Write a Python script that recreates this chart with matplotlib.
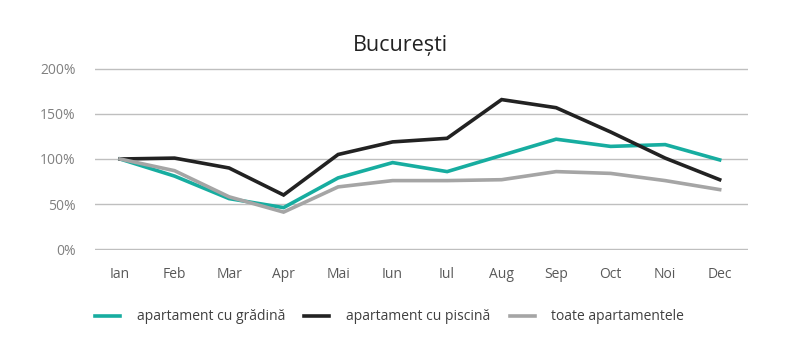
import matplotlib
matplotlib.use("Agg")
import matplotlib.pyplot as plt
from matplotlib.ticker import FuncFormatter

months = ["Ian", "Feb", "Mar", "Apr", "Mai", "Iun", "Iul", "Aug", "Sep", "Oct", "Noi", "Dec"]
gradina = [100, 81, 56, 46, 79, 96, 86, 104, 122, 114, 116, 99]
piscina = [100, 101, 90, 60, 105, 119, 123, 166, 157, 130, 101, 77]
toate = [100, 87, 58, 41, 69, 76, 76, 77, 86, 84, 76, 66]
labels = ["apartament cu grădină", "apartament cu piscină", "toate apartamentele"]
colors = ["#17ADA0", "#222222", "#A5A5A5"]

plt.rcParams['font.family'] = ['Open Sans', 'DejaVu Sans']
fig = plt.figure(figsize=(8, 3.52), dpi=100)
ax = fig.add_axes([95/800, 1-250/352, (748-95)/800, (250-68)/352])

x = list(range(len(months)))
for vals, lab, col in zip([gradina, piscina, toate], labels, colors):
    ax.plot(x, vals, color=col, lw=2.6, label=lab, solid_joinstyle='miter')

ax.set_ylim(-1.1, 201.1)
ax.set_xlim(-0.46, 11.52)
ax.set_yticks([0, 50, 100, 150, 200])
ax.yaxis.set_major_formatter(FuncFormatter(lambda v, p: f"{int(v)}%"))
ax.set_xticks(x)
ax.set_xticklabels(months)
ax.grid(axis='y', color='#BFBFBF', lw=1)
ax.set_axisbelow(True)
for s in ax.spines.values():
    s.set_visible(False)
ax.tick_params(axis='both', length=0, labelsize=10, colors='#595959')
ax.tick_params(axis='x', pad=12)
ax.tick_params(axis='y', pad=14)
for t in ax.get_yticklabels():
    t.set_color('#808080')

fig.text(0.5, 1-45/352, "București", ha='center', va='center', fontsize=15.5, color='#222222')
fig.legend(loc='center left', bbox_to_anchor=(88/800, 1-317/352), ncol=3, frameon=False,
           fontsize=10, handlelength=1.8, columnspacing=1.4, handletextpad=1.2,
           labelcolor='#404040', borderpad=0)
fig.savefig("out.png", dpi=100)
